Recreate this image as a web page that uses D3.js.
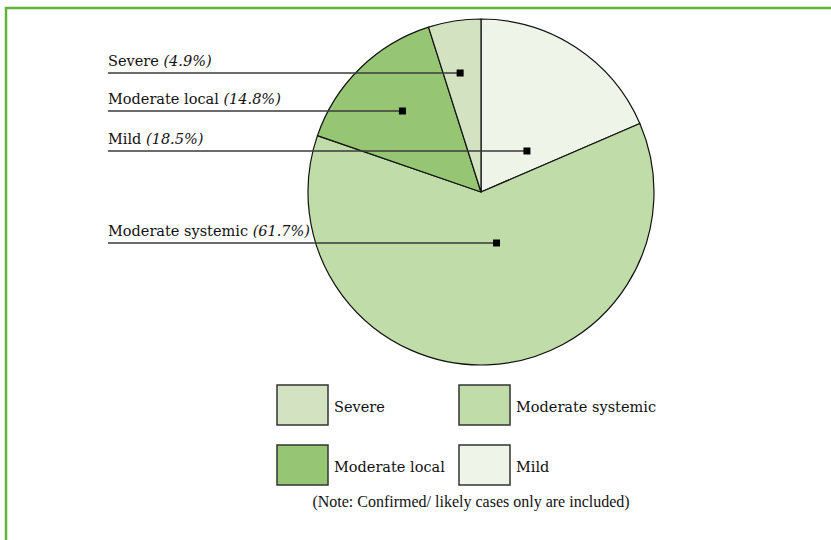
<!DOCTYPE html>
<html>
<head>
<meta charset="utf-8">
<script src="https://cdn.jsdelivr.net/npm/d3@7"></script>
<style>
  body { margin: 0; background: #fff; }
  svg { display: block; }
  .lbl, .legend-item { font-family: "DejaVu Serif", serif; font-size: 14.5px; fill: #111; }
  .note { font-family: "Liberation Serif", serif; font-size: 16px; fill: #111; }
</style>
</head>
<body>
<svg id="mainChart" width="831" height="540"></svg>
<script>
const categories = ["Mild", "Moderate systemic", "Moderate local", "Severe"];
const percents = [18.5, 61.7, 14.8, 4.9];
const colors = ["#eef4e7", "#c0dca8", "#96c673", "#d3e3c1"];
// where the leader marker sits inside each slice: share of the slice angle, share of radius
const markerAngle = [0.74, 0.434, 0.50, 0.43];
const markerRadius = [0.35, 0.31, 0.65, 0.69];
// label rows, top to bottom
const labelOrder = ["Severe", "Moderate local", "Mild", "Moderate systemic"];
const labelLineY = [73, 111, 151, 243];
const legendRows = [["Severe", "Moderate systemic"], ["Moderate local", "Mild"]];
const noteText = "(Note: Confirmed/ likely cases only are included)";

const svg = d3.select("svg#mainChart");
const attr = { cx: 481, cy: 192, r: 173, labelX: 108 };

// green frame
svg.append("rect")
  .attr("x", 6).attr("y", 8)
  .attr("width", 860).attr("height", 560)
  .attr("fill", "none")
  .attr("stroke", "#62b436")
  .attr("stroke-width", 2.5);

const data = categories.map((c, i) => ({ name: c, value: percents[i], color: colors[i], fa: markerAngle[i], fr: markerRadius[i] }));
const pie = d3.pie().sort(null).value(d => d.value);
const arcs = pie(data);
const arc = d3.arc().innerRadius(0).outerRadius(attr.r);

const g = svg.append("g").attr("transform", `translate(${attr.cx},${attr.cy})`);
g.selectAll("path")
  .data(arcs)
  .enter()
  .append("path")
  .attr("d", arc)
  .attr("fill", d => d.data.color)
  .attr("stroke", "#111")
  .attr("stroke-width", 1.2)
  .attr("stroke-linejoin", "round");

function markerPos(a) {
  const ang = a.startAngle + a.data.fa * (a.endAngle - a.startAngle);
  const rr = a.data.fr * attr.r;
  return [attr.cx + rr * Math.sin(ang), attr.cy - rr * Math.cos(ang)];
}

labelOrder.forEach((name, i) => {
  const a = arcs.find(d => d.data.name === name);
  const [mx, my] = markerPos(a);
  const y = labelLineY[i];
  svg.append("line")
    .attr("x1", attr.labelX).attr("x2", mx)
    .attr("y1", y).attr("y2", y)
    .attr("stroke", "#3a3a3a")
    .attr("stroke-width", 1.4);
  svg.append("rect")
    .attr("x", mx - 3.5).attr("y", y - 3.5)
    .attr("width", 7).attr("height", 7)
    .attr("fill", "#000");
  const t = svg.append("text")
    .attr("class", "lbl")
    .attr("x", attr.labelX)
    .attr("y", y - 7);
  t.append("tspan").text(name + " ");
  t.append("tspan").attr("font-style", "italic").text(`(${a.data.value}%)`);
});

// legend
const legX = [277, 459], legY = [385, 445];
legendRows.forEach((row, ri) => {
  row.forEach((name, ci) => {
    const d = data.find(e => e.name === name);
    svg.append("rect")
      .attr("x", legX[ci]).attr("y", legY[ri])
      .attr("width", 51).attr("height", 40)
      .attr("fill", d.color)
      .attr("stroke", "#333")
      .attr("stroke-width", 1.5);
    svg.append("text")
      .attr("class", "legend-item")
      .attr("x", legX[ci] + 57)
      .attr("y", legY[ri] + 27)
      .text(name);
  });
});

svg.append("text")
  .attr("class", "note")
  .attr("x", 471).attr("y", 507)
  .attr("text-anchor", "middle")
  .text(noteText);
</script>
</body>
</html>
